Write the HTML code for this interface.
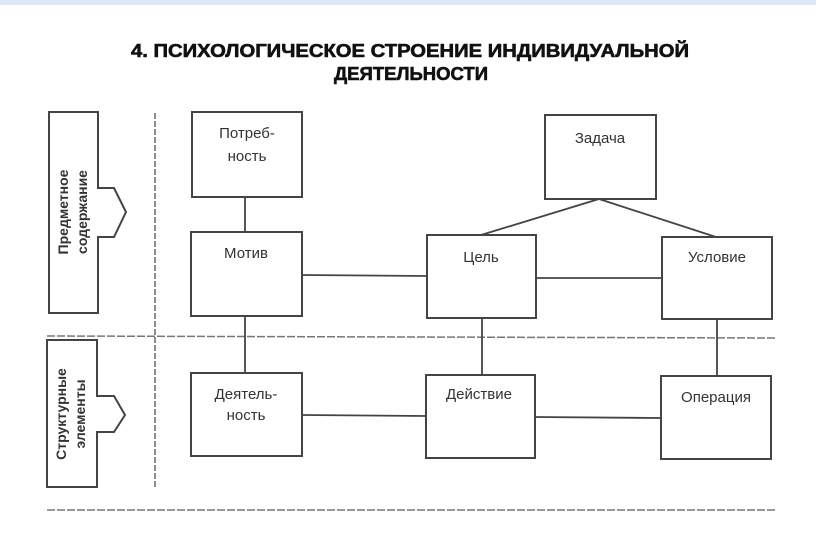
<!DOCTYPE html>
<html><head><meta charset="utf-8"><style>
body{margin:0;background:#fff;width:816px;height:539px;overflow:hidden}
svg{display:block}
text{font-family:"Liberation Sans","DejaVu Sans",sans-serif;fill:#333}
</style></head><body>
<svg width="816" height="539" viewBox="0 0 816 539">
<rect x="0" y="0" width="816" height="5" fill="#dce8f4"/>
<text x="131" y="57" textLength="558" lengthAdjust="spacingAndGlyphs" font-size="18" font-weight="900" style="fill:#111;stroke:#111;stroke-width:0.6">4. ПСИХОЛОГИЧЕСКОЕ СТРОЕНИЕ ИНДИВИДУАЛЬНОЙ</text>
<text x="334" y="80" textLength="154" lengthAdjust="spacingAndGlyphs" font-size="18" font-weight="900" style="fill:#111;stroke:#111;stroke-width:0.6">ДЕЯТЕЛЬНОСТИ</text>
<g fill="none" stroke="#444" stroke-width="2">
<path d="M49 112 H98 V188 H114 L126 212 L114 237 H98 V313 H49 Z"/>
<path d="M47 340 H97 V396 H114 L125 415 L114 432 H97 V487 H47 Z"/>
</g>
<line x1="155" y1="113" x2="155" y2="487" stroke="#666" stroke-width="1.5" stroke-dasharray="6 2"/>
<line x1="47" y1="336" x2="775" y2="338" stroke="#777" stroke-width="1.5" stroke-dasharray="8 2"/>
<line x1="47" y1="510" x2="775" y2="510" stroke="#777" stroke-width="1.5" stroke-dasharray="8 2"/>
<text transform="translate(68,212) rotate(-90)" text-anchor="middle" font-size="14" font-weight="bold">Предметное</text>
<text transform="translate(87,212) rotate(-90)" text-anchor="middle" font-size="14" font-weight="bold">содержание</text>
<text transform="translate(66,414) rotate(-90)" text-anchor="middle" font-size="14" font-weight="bold">Структурные</text>
<text transform="translate(85,414) rotate(-90)" text-anchor="middle" font-size="14" font-weight="bold">элементы</text>
<g stroke="#444" stroke-width="1.8" fill="none">
<line x1="245" y1="197" x2="245" y2="373"/>
<line x1="302" y1="275" x2="427" y2="276"/>
<line x1="536" y1="278" x2="662" y2="278"/>
<line x1="482" y1="318" x2="482" y2="375"/>
<line x1="717" y1="319" x2="717" y2="376"/>
<line x1="302" y1="415" x2="426" y2="416"/>
<line x1="535" y1="417" x2="661" y2="418"/>
<polyline points="481,235 599,199 716,237"/>
</g>
<g fill="#fff" stroke="#444" stroke-width="2">
<rect x="192" y="112" width="110" height="85"/>
<rect x="191" y="232" width="111" height="84"/>
<rect x="545" y="115" width="111" height="84"/>
<rect x="427" y="235" width="109" height="83"/>
<rect x="662" y="237" width="110" height="82"/>
<rect x="191" y="373" width="111" height="83"/>
<rect x="426" y="375" width="109" height="83"/>
<rect x="661" y="376" width="110" height="83"/>
</g>
<g font-size="15" text-anchor="middle">
<text x="247" y="138">Потреб-</text>
<text x="247" y="161">ность</text>
<text x="246" y="258">Мотив</text>
<text x="600" y="143">Задача</text>
<text x="481" y="262">Цель</text>
<text x="717" y="262">Условие</text>
<text x="246" y="399">Деятель-</text>
<text x="246" y="420">ность</text>
<text x="479" y="399">Действие</text>
<text x="716" y="402">Операция</text>
</g>
</svg>
</body></html>
